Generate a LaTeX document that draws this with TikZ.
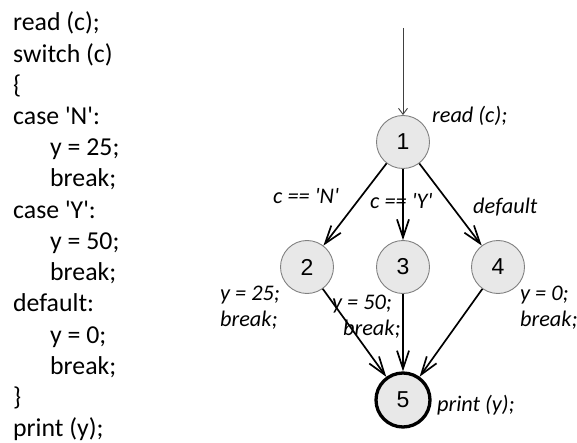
\documentclass[tikz,border=0pt]{standalone}
\usepackage{fontspec}
\setmainfont{Carlito}
\newfontfamily\calfont{Carlito}
\newfontfamily\numfont{Liberation Sans}
\usetikzlibrary{arrows.meta}
\begin{document}
\begin{tikzpicture}[x=1pt,y=-1pt,
  code/.style={anchor=base west,inner sep=0pt,font=\calfont\fontsize{25.8}{30}\selectfont},
  cfgnode/.style={circle,draw=black!50,line width=0.9pt,fill=black!9,minimum size=53pt,inner sep=0pt,font=\numfont\fontsize{23}{26}\selectfont},
  endnode/.style={cfgnode,draw=black,line width=3.3pt,minimum size=54pt},
  lbl/.style={anchor=west,inner sep=0pt,font=\calfont\itshape\fontsize{22.3}{26}\selectfont},
  edge/.style={draw=black,line width=1.7pt,-{Straight Barb[length=18pt,width=12pt,line width=1.7pt]}},
  entry/.style={draw=black!75,line width=0.9pt,-{Straight Barb[length=6pt,width=9pt,line width=0.9pt]}}]
\useasboundingbox (0,0) rectangle (577,443);
% code listing
\node[code] (l1) at (13,31) {read (c);};
\node[code] (l2) at (13,62.2) {switch (c)};
\node[code] (l3) at (13,93.4) {\{};
\node[code] (l4) at (13,124.6) {case 'N':};
\node[code] (l5) at (50,155.8) {y = 25;};
\node[code] (l6) at (50,187) {break;};
\node[code] (l7) at (13,218.2) {case 'Y':};
\node[code] (l8) at (50,249.4) {y = 50;};
\node[code] (l9) at (50,280.6) {break;};
\node[code] (l10) at (13,311.8) {default:};
\node[code] (l11) at (50,343) {y = 0;};
\node[code] (l12) at (50,374.2) {break;};
\node[code] (l13) at (13,405.4) {\}};
\node[code] (l14) at (13,436.6) {print (y);};
% graph
\coordinate (start) at (403,28);
\node[cfgnode] (n1) at (403,142) {1};
\node[cfgnode] (n2) at (307,267) {2};
\node[cfgnode] (n3) at (403,267) {3};
\node[cfgnode] (n4) at (498,267) {4};
\node[endnode] (n5) at (403,400) {5};
\draw[entry] (start) -- (n1);
\draw[edge] (n1) -- (n2);
\draw[edge] (n1) -- (n3);
\draw[edge] (n1) -- (n4);
\draw[edge] (n2) -- (n5);
\draw[edge] (n3) -- (n5);
\draw[edge] (n4) -- (n5);
% labels
\node[lbl] (t1) at (432,116) {read (c);};
\node[lbl] (e12) at (273,196) {c == 'N'};
\node[lbl] (e13) at (370,201) {c == 'Y'};
\node[lbl] (e14) at (473,207) {default};
\node[lbl] (t2a) at (220,295) {y = 25;};
\node[lbl] (t2b) at (220,320) {break;};
\node[lbl] (t3a) at (332,304) {y = 50;};
\node[lbl] (t3b) at (343,329) {break;};
\node[lbl] (t4a) at (520,295) {y = 0;};
\node[lbl] (t4b) at (520,320) {break;};
\node[lbl] (t5) at (437,405) {print (y);};
\end{tikzpicture}
\end{document}
